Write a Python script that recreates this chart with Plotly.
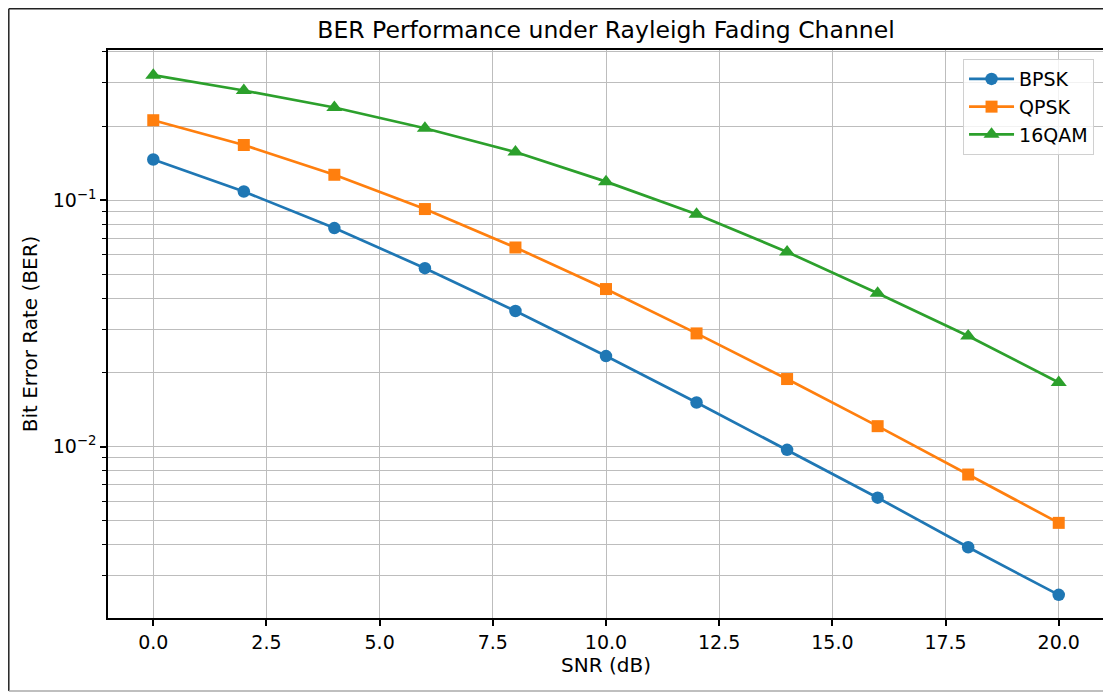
import plotly.graph_objects as go

snr_db = [0, 2, 4, 6, 8, 10, 12, 14, 16, 18, 20]
ber_bpsk = [0.1464, 0.1085, 0.0771, 0.0530, 0.0355, 0.0233, 0.0151, 0.0097, 0.0062, 0.0039, 0.0025]
ber_qpsk = [0.2113, 0.1676, 0.1269, 0.0921, 0.0643, 0.0436, 0.0288, 0.0188, 0.0121, 0.0077, 0.0049]
ber_16qam = [0.322, 0.279, 0.238, 0.196, 0.157, 0.119, 0.0878, 0.0617, 0.0419, 0.0281, 0.0182]

x_ticks = [0, 2.5, 5, 7.5, 10, 12.5, 15, 17.5, 20]
y_major = [0.01, 0.1]
y_major_text = ["10<sup>\u22122</sup>", "10<sup>\u22121</sup>"]
y_minor = [0.003, 0.004, 0.005, 0.006, 0.007, 0.008, 0.009,
           0.02, 0.03, 0.04, 0.05, 0.06, 0.07, 0.08, 0.09,
           0.2, 0.3, 0.4]

FONT = "DejaVu Sans"
GRID = "#bdbdbd"

# the page body adds an 8px offset; figure is sized to compensate
W, H = 1103, 685

series = [
    ("BPSK", ber_bpsk, "#1f77b4", "circle", 12.5),
    ("QPSK", ber_qpsk, "#ff7f0e", "square", 12),
    ("16QAM", ber_16qam, "#2ca02c", "triangle-up", 14),
]

fig = go.Figure()
for i, (name, vals, color, sym, msize) in enumerate(series):
    fig.add_trace(go.Scatter(
        x=snr_db, y=vals, name=name, mode="lines+markers",
        line=dict(color=color, width=2.7),
        marker=dict(symbol=sym, size=msize, color=color, line=dict(width=0)),
        legendgroup=name,
    ))

fig.update_layout(
    width=W, height=H,
    margin=dict(l=100, r=7, t=42, b=75),
    paper_bgcolor="white", plot_bgcolor="white",
    font=dict(family=FONT, size=19, color="black"),
    title=dict(text="BER Performance under Rayleigh Fading Channel",
               x=0.5, xref="paper", xanchor="center",
               y=1 - 22 / H, yref="container", yanchor="middle",
               font=dict(family=FONT, size=23.5, color="black")),
    showlegend=True,
    legend=dict(x=0.99, y=0.984, xanchor="right", yanchor="top",
                bgcolor="rgba(255,255,255,0.8)", bordercolor="#d0d0d0", borderwidth=1,
                font=dict(family=FONT, size=19, color="black"),
                tracegroupgap=9, traceorder="normal", itemwidth=45),
)

fig.update_xaxes(
    range=[-1, 21], tickvals=x_ticks, ticktext=[f"{v:.1f}" for v in x_ticks],
    showline=True, mirror=True, linecolor="black", linewidth=1.5,
    ticks="outside", ticklen=6, tickwidth=1.5, tickcolor="black",
    showgrid=True, gridcolor=GRID, gridwidth=1.4, zeroline=False,
    tickfont=dict(family=FONT, size=19),
    title=dict(text="SNR (dB)", font=dict(family=FONT, size=20), standoff=6),
    automargin=False,
)

fig.update_yaxes(
    type="log", range=[-2.696, -0.390],
    tickvals=y_major, ticktext=y_major_text,
    showline=True, mirror=True, linecolor="black", linewidth=1.5,
    ticks="outside", ticklen=6, tickwidth=1.5, tickcolor="black",
    showgrid=True, gridcolor=GRID, gridwidth=1.4, zeroline=False,
    tickfont=dict(family=FONT, size=19),
    minor=dict(tickvals=y_minor, ticks="outside", ticklen=4, tickwidth=1.2,
               tickcolor="black", showgrid=True, gridcolor=GRID, gridwidth=1.4),
    title=dict(text="Bit Error Rate (BER)", font=dict(family=FONT, size=20), standoff=10),
    automargin=False,
)

# outer frame of the picture (left/top dark, bottom light)
pw, ph = W - 100 - 7, H - 42 - 75
fx0 = -99.2 / pw
fy_top = (ph + 42 - 0.8) / ph
fy_bot = -(75 - 2) / ph
fig.add_shape(type="line", xref="paper", yref="paper",
              x0=fx0, x1=1.02, y0=fy_top, y1=fy_top,
              line=dict(color="#222222", width=1.5))
fig.add_shape(type="line", xref="paper", yref="paper",
              x0=fx0, x1=fx0, y0=fy_bot, y1=fy_top,
              line=dict(color="#222222", width=1.5))
fig.add_shape(type="line", xref="paper", yref="paper",
              x0=fx0, x1=1.02, y0=fy_bot, y1=fy_bot,
              line=dict(color="#aaaaaa", width=1.5))

fig.write_html("out.html")
